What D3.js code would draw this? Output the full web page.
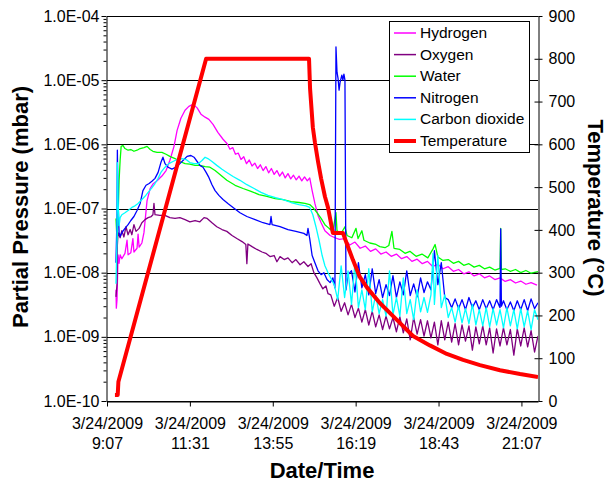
<!DOCTYPE html>
<html><head><meta charset="utf-8">
<script src="https://cdn.jsdelivr.net/npm/d3@7/dist/d3.min.js"></script>
<style>
html,body{margin:0;padding:0;background:#fff;}
svg{display:block;font-family:"Liberation Sans",Arial,sans-serif;}
</style></head>
<body>
<svg id="chart" width="607" height="484"></svg>
<script>
// ---------- data (time in decimal hours of 3/24/2009) ----------
const seriesNames = ["Hydrogen","Oxygen","Water","Nitrogen","Carbon dioxide","Temperature"];
const seriesColors = ["#FF00FF","#800080","#00FF00","#0000FF","#00FFFF","#FF0000"];

const yTickValues = [1e-10,1e-9,1e-8,1e-7,1e-6,1e-5,1e-4];
const yTickLabels = ["1.0E-10","1.0E-09","1.0E-08","1.0E-07","1.0E-06","1.0E-05","1.0E-04"];
const tempTickValues = [0,100,200,300,400,500,600,700,800,900];
const xTickValues = [9.12,11.52,13.92,16.32,18.72,21.12];
const xTickDate = "3/24/2009";
const xTickTimes = ["9:07","11:31","13:55","16:19","18:43","21:07"];
const xDomain = [9.12,21.6];

const hydrogen = [
[9.38,5.4e-9],[9.39,2.8e-9],[9.41,3.8e-9],[9.44,1.9e-8],[9.47,1.4e-8],[9.50,1.9e-8],[9.55,1.65e-8],[9.64,2.0e-8],[9.70,3.2e-8],[9.73,1.9e-8],
[9.81,2.05e-8],[9.87,3.4e-8],[9.90,2.1e-8],[9.99,2.4e-8],[10.02,4.0e-8],[10.05,2.5e-8],[10.13,2.9e-8],[10.19,4.2e-8],[10.28,1.33e-7],[10.37,2.05e-7],
[10.45,2.4e-7],[10.57,2.7e-7],[10.71,3.2e-7],[10.83,3.9e-7],[10.94,5.6e-7],[11.06,9.3e-7],[11.15,1.65e-6],[11.26,2.55e-6],[11.38,3.4e-6],[11.49,3.9e-6],
[11.61,4.2e-6],[11.73,3.7e-6],[11.84,2.95e-6],[11.96,2.65e-6],[12.07,2.45e-6],[12.19,2.05e-6],[12.33,1.54e-6],[12.48,1.2e-6],
[12.60,1.02e-6],[12.68,8.4e-7],[12.76,8.9e-7],[12.84,7.0e-7],[12.92,7.3e-7],[13.00,5.8e-7],[13.08,6.4e-7],[13.16,5.0e-7],[13.24,5.7e-7],[13.32,4.6e-7],
[13.40,5.1e-7],[13.48,4.2e-7],[13.56,4.8e-7],[13.64,3.9e-7],[13.72,4.5e-7],[13.80,3.6e-7],[13.88,4.2e-7],[13.96,3.4e-7],[14.04,3.9e-7],[14.12,3.2e-7],
[14.20,3.7e-7],[14.28,3.0e-7],[14.36,3.5e-7],[14.44,2.9e-7],[14.52,3.3e-7],[14.60,2.8e-7],[14.68,3.2e-7],[14.76,2.7e-7],[14.84,3.1e-7],[14.92,2.7e-7],
[14.99,3.0e-7],[15.06,1.9e-7],[15.14,1.2e-7],[15.23,7.8e-8],[15.32,6.0e-8],[15.43,4.5e-8],[15.58,3.8e-8],[15.72,3.5e-8],[15.85,3.3e-8],
[16.00,3.4e-8],[16.15,2.7e-8],[16.30,3.0e-8],[16.45,2.4e-8],[16.60,2.6e-8],[16.75,2.15e-8],[16.90,2.35e-8],[17.05,1.95e-8],[17.20,2.1e-8],[17.35,1.8e-8],
[17.50,1.95e-8],[17.65,1.65e-8],[17.80,1.78e-8],[17.95,1.5e-8],[18.10,1.62e-8],[18.25,1.38e-8],[18.40,1.5e-8],[18.55,1.25e-8],[18.70,1.35e-8],[18.85,1.15e-8],
[19.00,1.24e-8],[19.15,1.05e-8],[19.30,1.12e-8],[19.45,9.6e-9],[19.60,1.03e-8],[19.75,8.9e-9],[19.90,9.6e-9],[20.05,8.3e-9],[20.20,8.9e-9],[20.35,7.8e-9],
[20.50,8.3e-9],[20.65,7.3e-9],[20.80,7.8e-9],[20.95,6.9e-9],[21.10,7.4e-9],[21.25,6.6e-9],[21.40,7.0e-9],[21.57,6.4e-9]
];

const oxygen = [
[9.38,4.2e-9],[9.41,6.5e-9],[9.42,2.65e-8],[9.44,4.2e-8],[9.50,3.5e-8],[9.55,4.5e-8],[9.61,3.6e-8],[9.67,5.2e-8],[9.73,3.9e-8],[9.79,4.7e-8],
[9.84,3.9e-8],[9.90,5.6e-8],[9.96,4.4e-8],[10.05,4.9e-8],[10.13,6.0e-8],[10.22,6.7e-8],[10.31,7.2e-8],[10.40,7.5e-8],[10.45,8.0e-8],[10.48,1.2e-7],
[10.51,8.0e-8],[10.65,7.8e-8],[10.80,7.8e-8],[10.94,7.2e-8],[11.09,7.0e-8],[11.23,7.2e-8],[11.38,6.7e-8],[11.52,6.2e-8],[11.67,6.5e-8],[11.81,6.2e-8],
[11.93,7.2e-8],[12.02,7.0e-8],[12.16,6.0e-8],[12.30,5.2e-8],[12.45,4.7e-8],[12.59,4.4e-8],[12.74,3.8e-8],[12.88,3.4e-8],[13.03,3.05e-8],[13.14,2.75e-8],
[13.17,1.38e-8],[13.20,2.8e-8],[13.32,2.55e-8],[13.46,2.3e-8],[13.61,2.1e-8],[13.72,2.0e-8],[13.84,1.78e-8],[13.96,1.85e-8],[14.04,1.48e-8],[14.13,1.78e-8],
[14.25,1.6e-8],[14.36,1.7e-8],[14.48,1.43e-8],[14.59,1.6e-8],[14.71,1.33e-8],[14.82,1.48e-8],[14.94,1.25e-8],[15.03,1.38e-8],[15.11,1.0e-8],[15.20,8.3e-9],
[15.29,6.7e-9],[15.37,5.6e-9],[15.46,6.2e-9],[15.52,4.7e-9],
[15.6,4.5e-9],[15.7,3.0e-9],[15.8,4.1e-9],[15.9,2.5e-9],[16.0,3.4e-9],[16.1,2.2e-9],[16.2,3.2e-9],[16.3,2.0e-9],[16.4,2.8e-9],[16.5,1.7e-9],
[16.6,2.65e-9],[16.7,1.53e-9],[16.8,2.5e-9],[16.9,1.43e-9],[17.0,2.2e-9],[17.1,1.3e-9],[17.2,2.1e-9],[17.3,1.33e-9],[17.4,2.0e-9],[17.5,1.2e-9],
[17.6,2.05e-9],[17.7,1.15e-9],[17.8,1.9e-9],[17.9,9.0e-10],[18.0,2.0e-9],[18.1,1.1e-9],[18.2,1.85e-9],[18.3,1.03e-9],[18.4,1.78e-9],[18.5,9.6e-10],
[18.6,1.7e-9],[18.7,7.5e-10],[18.8,1.78e-9],[18.9,9.0e-10],[19.0,1.7e-9],[19.1,8.3e-10],[19.2,1.6e-9],[19.3,7.5e-10],[19.4,1.53e-9],[19.5,8.6e-10],
[19.6,1.48e-9],[19.7,6.2e-10],[19.8,1.43e-9],[19.9,7.8e-10],[20.0,1.48e-9],[20.1,7.5e-10],[20.2,1.38e-9],[20.3,5.6e-10],[20.4,1.33e-9],[20.5,7.2e-10],
[20.6,1.38e-9],[20.7,7.5e-10],[20.8,1.3e-9],[20.9,5.2e-10],[21.0,1.33e-9],[21.1,7.2e-10],[21.2,1.38e-9],[21.3,7.0e-10],[21.4,1.25e-9],[21.5,5.8e-10],
[21.6,1.03e-9]
];

const water = [
[9.38,7.0e-8],[9.41,3.2e-8],[9.44,7.2e-8],[9.47,2.7e-7],[9.50,5.6e-7],[9.53,9.3e-7],[9.58,9.6e-7],[9.64,8.6e-7],[9.73,8.1e-7],[9.81,8.3e-7],
[9.90,7.8e-7],[9.99,8.1e-7],[10.08,8.6e-7],[10.19,8.9e-7],[10.28,9.3e-7],[10.37,8.3e-7],[10.45,7.8e-7],[10.57,7.5e-7],[10.71,7.5e-7],[10.83,7.0e-7],
[10.94,6.5e-7],[11.09,6.0e-7],[11.23,5.4e-7],[11.38,5.0e-7],[11.52,4.9e-7],[11.67,4.7e-7],[11.81,4.7e-7],[11.96,4.5e-7],[12.10,4.4e-7],[12.25,3.9e-7],
[12.39,3.4e-7],[12.59,2.75e-7],[12.83,2.3e-7],[13.06,2.05e-7],[13.29,1.85e-7],[13.52,1.65e-7],[13.75,1.55e-7],[13.99,1.43e-7],[14.22,1.38e-7],[14.45,1.28e-7],
[14.68,1.24e-7],[14.85,1.2e-7],[14.99,1.15e-7],[15.08,1.04e-7],[15.20,8.6e-8],[15.32,7.0e-8],[15.43,5.6e-8],[15.55,4.9e-8],[15.66,4.4e-8],[15.75,8.6e-8],
[15.78,4.5e-8],[15.90,4.1e-8],[16.01,5.2e-8],[16.07,3.8e-8],[16.21,3.5e-8],[16.33,4.9e-8],[16.39,3.4e-8],[16.50,4.5e-8],[16.56,3.2e-8],[16.73,2.9e-8],
[16.91,2.75e-8],[17.02,2.55e-8],[17.17,2.45e-8],[17.28,2.65e-8],[17.37,4.4e-8],[17.43,2.4e-8],
[17.60,2.3e-8],[17.75,2.0e-8],[17.89,2.15e-8],[18.07,1.8e-8],[18.24,1.95e-8],[18.41,1.7e-8],[18.56,2.35e-8],[18.62,2.75e-8],[18.70,1.75e-8],[18.85,1.55e-8],
[19.00,1.6e-8],[19.15,1.4e-8],[19.30,1.5e-8],[19.45,1.3e-8],[19.60,1.38e-8],[19.75,1.22e-8],[19.90,1.3e-8],[20.05,1.15e-8],[20.20,1.22e-8],[20.35,1.1e-8],
[20.50,1.17e-8],[20.52,4.9e-8],[20.54,1.12e-8],[20.65,1.15e-8],[20.80,1.05e-8],[20.95,1.12e-8],[21.10,1.0e-8],[21.25,1.08e-8],[21.40,9.8e-9],[21.60,1.04e-8]
];

const nitrogen = [
[9.38,1.43e-8],[9.41,7.8e-8],[9.42,8.1e-7],[9.44,1.33e-7],[9.47,4.2e-8],[9.50,3.65e-8],[9.55,4.2e-8],[9.64,4.9e-8],[9.73,5.6e-8],[9.81,6.5e-8],
[9.90,7.5e-8],[9.99,9.3e-8],[10.08,1.2e-7],[10.16,1.9e-7],[10.25,2.3e-7],[10.34,2.45e-7],[10.42,2.65e-7],[10.51,2.95e-7],[10.60,3.65e-7],[10.68,5.2e-7],
[10.74,6.3e-7],[10.80,5.0e-7],[10.89,4.4e-7],[11.00,4.1e-7],[11.12,4.4e-7],[11.23,5.0e-7],[11.35,5.8e-7],[11.44,6.5e-7],[11.55,6.7e-7],[11.64,6.3e-7],
[11.73,5.4e-7],[11.81,4.7e-7],[11.90,4.4e-7],[11.99,3.65e-7],[12.07,3.05e-7],[12.16,2.35e-7],[12.25,1.9e-7],[12.36,1.6e-7],[12.48,1.38e-7],[12.62,1.2e-7],
[12.77,1.04e-7],[12.97,8.6e-8],[13.17,7.5e-8],[13.41,6.7e-8],[13.64,6.0e-8],[13.84,5.6e-8],[13.87,7.5e-8],[13.90,5.6e-8],[14.13,5.2e-8],[14.36,4.7e-8],
[14.59,4.4e-8],[14.82,4.1e-8],[14.91,3.8e-8],[14.94,4.9e-8],[14.99,3.4e-8],[15.06,1.85e-8],[15.14,1.43e-8],[15.23,1.07e-8],[15.32,9.3e-9],[15.40,1.0e-8],
[15.49,7.8e-9],[15.58,7.0e-9],[15.66,8.3e-9],[15.72,5.8e-9],[15.75,3.3e-5],[15.78,1.33e-5],[15.81,1.07e-5],[15.84,7.0e-6],[15.87,9.3e-6],[15.92,1.2e-5],
[15.95,1.0e-5],[15.98,1.24e-5],[16.01,1.0e-5],[16.04,5.4e-9],[16.10,9.3e-9],
[16.2,1.07e-8],[16.3,5.0e-9],[16.4,1.43e-8],[16.5,5.8e-9],[16.6,9.3e-9],[16.7,4.5e-9],[16.8,1.15e-8],[16.9,4.7e-9],[17.0,7.8e-9],[17.1,4.1e-9],
[17.2,6.5e-9],[17.3,4.4e-9],[17.4,9.0e-9],[17.5,4.1e-9],[17.6,7.2e-9],[17.7,4.5e-9],[17.8,1.07e-8],[17.9,4.4e-9],[18.0,6.7e-9],[18.1,4.2e-9],
[18.2,8.3e-9],[18.3,4.9e-9],[18.4,7.2e-9],[18.5,5.4e-9],[18.6,2.2e-8],[18.7,6.5e-9],[18.8,1.43e-8],[18.9,4.1e-9],[19.0,3.8e-9],[19.1,2.85e-9],
[19.2,3.9e-9],[19.3,2.75e-9],[19.4,3.8e-9],[19.5,2.65e-9],[19.6,4.1e-9],[19.7,2.85e-9],[19.8,3.65e-9],[19.9,2.65e-9],[20.0,3.8e-9],[20.1,2.75e-9],
[20.2,3.65e-9],[20.3,2.65e-9],[20.4,3.8e-9],[20.5,2.85e-9],[20.52,4.8e-8],[20.54,3.0e-9],[20.6,3.65e-9],[20.7,2.65e-9],[20.8,3.5e-9],[20.9,2.55e-9],
[21.0,3.65e-9],[21.1,2.65e-9],[21.2,3.8e-9],[21.3,2.55e-9],[21.4,3.9e-9],[21.5,2.75e-9],[21.6,3.4e-9]
];

const carbonDioxide = [
[9.38,6.7e-9],[9.41,3.2e-8],[9.42,5.2e-7],[9.44,1.33e-7],[9.47,5.4e-8],[9.50,7.2e-8],[9.55,8.0e-8],[9.64,8.6e-8],[9.73,9.3e-8],[9.84,1.04e-7],
[9.93,1.1e-7],[10.02,1.2e-7],[10.13,1.38e-7],[10.22,1.55e-7],[10.31,1.78e-7],[10.42,2.1e-7],[10.51,2.45e-7],[10.60,2.95e-7],[10.68,3.65e-7],[10.80,4.4e-7],
[10.91,5.0e-7],[11.03,5.4e-7],[11.15,5.8e-7],[11.29,6.0e-7],[11.41,5.8e-7],[11.52,5.2e-7],[11.64,5.0e-7],[11.76,5.0e-7],[11.87,5.6e-7],[11.96,6.3e-7],
[12.04,6.0e-7],[12.16,5.4e-7],[12.30,4.7e-7],[12.45,4.1e-7],[12.59,3.65e-7],[12.77,3.15e-7],[12.97,2.75e-7],[13.17,2.35e-7],[13.38,2.05e-7],[13.58,1.78e-7],
[13.78,1.6e-7],[14.00,1.48e-7],[14.22,1.38e-7],[14.45,1.24e-7],[14.68,1.15e-7],[14.88,1.1e-7],[14.99,1.04e-7],[15.08,8.0e-8],[15.17,5.2e-8],[15.26,3.2e-8],
[15.35,1.85e-8],[15.43,1.28e-8],[15.52,1.0e-8],[15.61,8.0e-9],
[15.7,6.5e-9],[15.8,3.8e-9],[15.9,1.28e-8],[16.0,4.1e-9],[16.1,1.07e-8],[16.2,3.2e-9],[16.3,1.43e-8],[16.4,2.85e-9],[16.5,5.4e-9],[16.6,2.65e-9],
[16.7,1.15e-8],[16.8,2.45e-9],[16.9,4.5e-9],[17.0,2.3e-9],[17.1,3.8e-9],[17.2,2.1e-9],[17.3,1.07e-8],[17.4,2.2e-9],[17.5,4.1e-9],[17.6,2.1e-9],
[17.7,8.3e-9],[17.8,2.3e-9],[17.9,3.8e-9],[18.0,1.85e-9],[18.1,5.4e-9],[18.2,2.45e-9],[18.3,4.1e-9],[18.4,2.4e-9],[18.5,4.5e-9],[18.56,2.0e-8],
[18.6,3.2e-9],[18.7,1.85e-8],[18.8,2.85e-9],[18.9,4.5e-9],[19.0,2.0e-9],[19.1,2.85e-9],[19.2,1.7e-9],[19.3,3.05e-9],[19.4,1.65e-9],[19.5,2.75e-9],
[19.6,1.6e-9],[19.7,3.2e-9],[19.8,1.53e-9],[19.9,2.65e-9],[20.0,1.48e-9],[20.1,2.85e-9],[20.2,1.43e-9],[20.3,2.75e-9],[20.4,1.53e-9],[20.5,2.65e-9],
[20.6,1.38e-9],[20.7,2.85e-9],[20.8,1.48e-9],[20.9,2.65e-9],[21.0,1.33e-9],[21.1,2.75e-9],[21.2,1.43e-9],[21.3,2.55e-9],[21.4,1.3e-9],[21.5,2.65e-9],
[21.6,1.85e-9]
];

const temperature = [
[9.35,14],[9.43,14],[9.45,45],[11.99,800],[14.97,800],[15.00,730],[15.08,640],[15.14,605],[15.23,560],[15.32,520],
[15.43,478],[15.52,452],[15.66,393],[15.95,393],[16.10,360],[16.24,330],[16.44,290],[16.65,265],[17.02,229],[17.52,189],
[17.98,152],[18.47,130],[18.96,110],[19.43,96],[19.92,84],[20.50,72],[21.08,63],[21.60,56]
];

// ---------- layout ----------
const svg = d3.select("#chart");
const L = 107, R = 538, T = 16, B = 401;
const x = d3.scaleLinear().domain(xDomain).range([L, R]);
const y = d3.scaleLog().domain([1e-10, 1e-4]).range([B, T]);
const yT = d3.scaleLinear().domain([0, 900]).range([B, T]);
const font = '"Liberation Sans", Arial, sans-serif';
const tickFont = "16px";

// gridlines
svg.append("g").selectAll("line").data(yTickValues).join("line")
  .attr("x1", L).attr("x2", R)
  .attr("y1", d => Math.round(y(d)) + 0.5).attr("y2", d => Math.round(y(d)) + 0.5)
  .attr("stroke", "#000").attr("stroke-width", 1);

// clip
svg.append("clipPath").attr("id", "plotclip").append("rect")
  .attr("x", L).attr("y", T - 2).attr("width", R - L).attr("height", B - T + 4);

// series lines
const line = d3.line().x(d => x(d[0])).y(d => y(d[1]));
const pressureSeries = [hydrogen, oxygen, water, nitrogen, carbonDioxide];
const plot = svg.append("g").attr("clip-path", "url(#plotclip)");
pressureSeries.forEach((s, i) => {
  plot.append("path").datum(s).attr("d", line)
    .attr("fill", "none").attr("stroke", seriesColors[i])
    .attr("stroke-width", 1.3).attr("stroke-linejoin", "round");
});
const tLine = d3.line().x(d => x(d[0])).y(d => yT(d[1]));
plot.append("path").datum(temperature).attr("d", tLine)
  .attr("fill", "none").attr("stroke", seriesColors[5])
  .attr("stroke-width", 4).attr("stroke-linejoin", "round");

// left axis (major)
const leftAxis = d3.axisLeft(y).tickValues(yTickValues)
  .tickFormat((d, i) => yTickLabels[i]).tickSize(5).tickSizeOuter(0).tickPadding(2);
svg.append("g").attr("transform", `translate(${L - 0.5},0)`).call(leftAxis);
// left axis (minor)
const minorVals = [];
yTickValues.slice(0, -1).forEach(dec => { for (let m = 2; m <= 9; m++) minorVals.push(dec * m); });
const leftMinor = d3.axisLeft(y).tickValues(minorVals).tickFormat("").tickSize(3).tickSizeOuter(0);
svg.append("g").attr("transform", `translate(${L - 0.5},0)`).call(leftMinor).select(".domain").remove();

// right axis
const rightAxis = d3.axisRight(yT).tickValues(tempTickValues).tickSize(4).tickSizeOuter(0).tickPadding(6);
svg.append("g").attr("transform", `translate(${R + 0.5},0)`).call(rightAxis);
const rightInner = d3.axisLeft(yT).tickValues(tempTickValues).tickFormat("").tickSize(4).tickSizeOuter(0);
svg.append("g").attr("transform", `translate(${R + 0.5},0)`).call(rightInner).select(".domain").remove();

// bottom axis
const bottomAxis = d3.axisBottom(x).tickValues(xTickValues).tickFormat("").tickSize(5).tickSizeOuter(0);
const gB = svg.append("g").attr("transform", `translate(0,${B + 0.5})`).call(bottomAxis);
gB.selectAll(".tick").each(function(d, i) {
  const t = d3.select(this).append("text").attr("fill", "#000").attr("text-anchor", "middle");
  t.append("tspan").attr("x", 0).attr("y", 27).text(xTickDate);
  t.append("tspan").attr("x", 0).attr("y", 47).text(xTickTimes[i]);
});

svg.selectAll(".domain").attr("stroke", "#000");
svg.selectAll(".tick line").attr("stroke", "#000");
svg.selectAll(".tick text").attr("fill", "#000").style("font-size", tickFont).style("font-family", font);

// axis titles
svg.append("text").attr("transform", "translate(28,207) rotate(-90)")
  .attr("text-anchor", "middle").style("font-family", font).style("font-weight", "bold")
  .style("font-size", "22px").text("Partial Pressure (mbar)");
svg.append("text").attr("transform", "translate(588,208) rotate(90)")
  .attr("text-anchor", "middle").style("font-family", font).style("font-weight", "bold")
  .style("font-size", "22px").text("Temperature (°C)");
svg.append("text").attr("x", 322).attr("y", 478)
  .attr("text-anchor", "middle").style("font-family", font).style("font-weight", "bold")
  .style("font-size", "22px").text("Date/Time");

// legend
const lg = svg.append("g");
lg.append("rect").attr("x", 389.5).attr("y", 21.5).attr("width", 140).attr("height", 131)
  .attr("fill", "#fff").attr("stroke", "#000").attr("stroke-width", 1);
seriesNames.forEach((n, i) => {
  const cy = 33 + i * 21.6;
  lg.append("line").attr("x1", 394).attr("x2", 416).attr("y1", cy).attr("y2", cy)
    .attr("stroke", seriesColors[i]).attr("stroke-width", i === 5 ? 4 : 1.5);
  lg.append("text").attr("x", 420).attr("y", cy + 5).style("font-family", font)
    .style("font-size", "15.5px").text(n);
});
</script>
</body></html>
